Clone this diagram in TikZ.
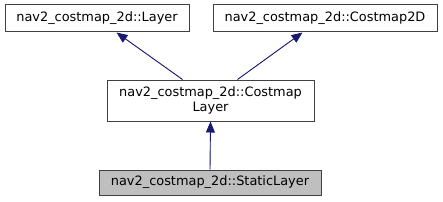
\documentclass[tikz,border=0pt]{standalone}
\usepackage{fontspec}
\setmainfont{DejaVu Sans}
\usetikzlibrary{arrows.meta,calc}
\definecolor{edgeblue}{HTML}{191970}
\definecolor{boxline}{HTML}{404040}
\definecolor{grayfill}{HTML}{BFBFBF}
\begin{document}
\begin{tikzpicture}[x=1pt,y=1pt,
  box/.style={draw=boxline,line width=1pt,fill=white,inner sep=0pt,align=center,
    font=\fontsize{12.9}{14.5}\selectfont},
  inherit/.style={draw=edgeblue,line width=0.9pt,-{Triangle[length=11pt,width=9pt]},fill=edgeblue}]
\useasboundingbox (0,0) rectangle (443,201);
\node[box,minimum width=184pt,minimum height=27pt] (layer) at (97,182.5) {nav2\_costmap\_2d::Layer};
\node[box,minimum width=224pt,minimum height=27pt] (cm2d) at (325,182.5) {nav2\_costmap\_2d::Costmap2D};
\node[box,minimum width=207pt,minimum height=41pt] (cl) at (210.5,100.5) {nav2\_costmap\_2d::Costmap\\Layer};
\node[box,fill=grayfill,minimum width=222pt,minimum height=25pt] (sl) at (210,18.5) {nav2\_costmap\_2d::StaticLayer};
\draw[inherit] ([xshift=76pt]cl.north west) -- ([xshift=112pt]layer.south west);
\draw[inherit] ([xshift=131pt]cl.north west) -- ([xshift=90pt]cm2d.south west);
\draw[inherit] (sl.north) -- (cl.south);
\end{tikzpicture}
\end{document}
